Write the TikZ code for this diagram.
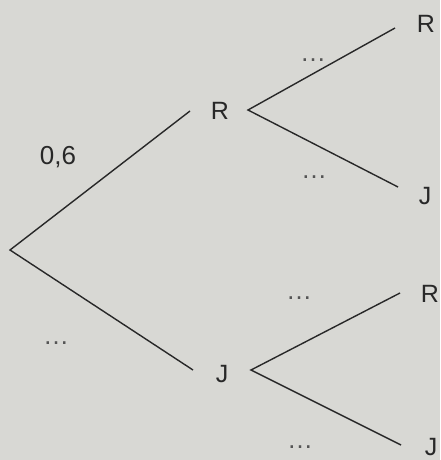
\documentclass[tikz,border=0pt]{standalone}
\usepackage{fontspec}
\setmainfont{Liberation Sans}
\definecolor{bg}{RGB}{216,216,212}
\definecolor{ink}{RGB}{40,40,40}
\definecolor{dotc}{RGB}{85,85,85}
\begin{document}
\begin{tikzpicture}[x=1pt,y=-1pt,
  lbl/.style={font=\fontsize{25}{25}\selectfont,text=ink,inner sep=0pt},
  prob/.style={font=\fontsize{26}{26}\selectfont,text=ink,inner sep=0pt},
  dots/.style={font=\fontsize{26}{26}\selectfont,text=dotc,inner sep=0pt},
  branch/.style={draw=ink,line width=1.4pt}]
\fill[bg] (0,0) rectangle (440,460);
\useasboundingbox (0,0) rectangle (440,460);
% points
\coordinate (o) at (10,250);
\coordinate (r1in) at (190,111);
\coordinate (r1out) at (248,110);
\coordinate (j1in) at (193,370);
\coordinate (j1out) at (251,370);
\coordinate (rrend) at (395,28);
\coordinate (rjend) at (398,187);
\coordinate (jrend) at (400,293);
\coordinate (jjend) at (401,445);
% labels
\node[lbl] (R1) at (220,111) {R};
\node[lbl] (J1) at (222,374) {J};
\node[lbl] (RR) at (426,24) {R};
\node[lbl] (RJ) at (425,196) {J};
\node[lbl] (JR) at (430,294) {R};
\node[lbl] (JJ) at (431,447) {J};
\node[prob] (p1) at (58,157) {0,6};
\node[dots,anchor=base] (p2) at (56,344) {\dots};
\node[dots,anchor=base] (p3) at (313,61) {\dots};
\node[dots,anchor=base] (p4) at (314,178) {\dots};
\node[dots,anchor=base] (p5) at (299,299) {\dots};
\node[dots,anchor=base] (p6) at (300,448) {\dots};
% branches
\draw[branch] (r1in) -- (o) -- (j1in);
\draw[branch] (rrend) -- (r1out) -- (rjend);
\draw[branch] (jrend) -- (j1out) -- (jjend);
\end{tikzpicture}
\end{document}
